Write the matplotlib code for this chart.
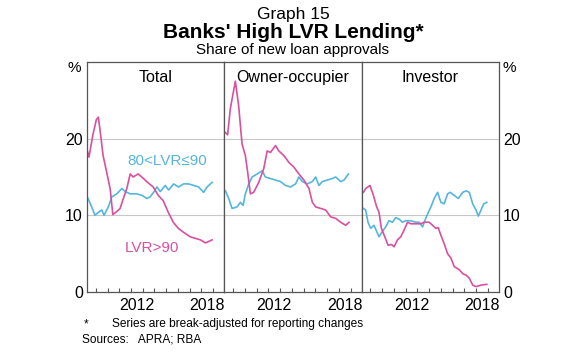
import matplotlib
matplotlib.use("Agg")
import matplotlib.pyplot as plt

plt.rcParams['font.family'] = ['Liberation Sans', 'DejaVu Sans']

# Data (decimal years, per cent)
panels = ["Total", "Owner-occupier", "Investor"]

total_hi_x = [2008.28, 2008.42, 2008.75, 2009.05, 2009.22, 2009.45, 2009.62, 2009.93, 2010.22, 2010.45,
              2010.79, 2011.07, 2011.35, 2011.64, 2011.93, 2012.18, 2012.61, 2013.06, 2013.49, 2013.89,
              2014.32, 2014.75, 2015.17, 2015.6, 2016.03, 2016.46, 2017.05, 2017.48, 2017.91, 2018.34, 2018.91]
total_hi_y = [18.4, 17.6, 20.5, 22.5, 22.8, 20.0, 17.8, 15.6, 13.5, 10.1,
              10.5, 10.9, 12.2, 13.5, 15.4, 15.0, 15.4, 14.8, 14.2, 13.7,
              12.6, 11.9, 10.4, 9.1, 8.3, 7.8, 7.2, 7.0, 6.8, 6.4, 6.8]
total_mid_x = [2008.28, 2008.65, 2008.93, 2009.22, 2009.51, 2009.7, 2010.07, 2010.36, 2010.79, 2011.22,
               2011.5, 2011.93, 2012.5, 2012.93, 2013.35, 2013.63, 2013.92, 2014.21, 2014.49, 2014.92,
               2015.2, 2015.63, 2016.05, 2016.48, 2016.91, 2017.34, 2017.76, 2018.19, 2018.48, 2018.91]
total_mid_y = [12.4, 11.1, 10.0, 10.4, 10.7, 10.0, 11.1, 12.4, 12.8, 13.5,
               13.1, 12.8, 12.8, 12.6, 12.2, 12.4, 13.0, 13.7, 13.1, 13.9,
               13.3, 14.1, 13.7, 14.1, 14.1, 13.9, 13.7, 13.0, 13.7, 14.3]

oo_hi_x = [2008.34, 2008.53, 2008.76, 2009.19, 2009.47, 2009.76, 2010.04, 2010.24, 2010.47, 2010.75,
           2011.18, 2011.61, 2011.9, 2012.18, 2012.61, 2012.89, 2013.32, 2013.75, 2014.17, 2014.6,
           2015.03, 2015.46, 2015.75, 2016.03, 2016.46, 2016.88, 2017.31, 2017.74, 2018.16, 2018.59, 2018.87]
oo_hi_y = [20.8, 20.5, 23.9, 27.5, 24.3, 19.3, 17.8, 15.6, 12.8, 13.0,
           14.3, 16.1, 18.4, 18.2, 19.1, 18.4, 17.8, 16.9, 16.3, 15.4,
           14.6, 13.5, 11.7, 11.1, 10.9, 10.7, 9.8, 9.6, 9.1, 8.7, 9.1]
oo_mid_x = [2008.34, 2008.62, 2008.91, 2009.34, 2009.62, 2009.85, 2010.04, 2010.33, 2010.62, 2011.05,
            2011.47, 2011.75, 2012.18, 2012.61, 2013.04, 2013.46, 2013.89, 2014.32, 2014.6, 2014.89,
            2015.32, 2015.75, 2016.03, 2016.31, 2016.6, 2017.03, 2017.45, 2017.74, 2018.16, 2018.45, 2018.82]
oo_mid_y = [13.2, 12.2, 10.9, 11.1, 11.7, 11.3, 12.8, 14.1, 15.0, 15.4,
            15.8, 15.0, 14.8, 14.6, 14.4, 13.9, 13.7, 14.1, 15.0, 14.4,
            14.1, 14.4, 15.0, 13.9, 14.4, 14.6, 14.8, 15.0, 14.4, 14.6, 15.4]

inv_hi_x = [2008.4, 2008.59, 2008.96, 2009.25, 2009.53, 2009.73, 2009.93, 2010.22, 2010.5, 2010.79,
            2011.01, 2011.3, 2011.58, 2011.87, 2012.16, 2012.44, 2012.87, 2013.29, 2013.57, 2014.0,
            2014.29, 2014.57, 2014.77, 2015.0, 2015.28, 2015.57, 2015.86, 2016.14, 2016.57, 2016.86,
            2017.14, 2017.42, 2017.71, 2017.99, 2018.42, 2018.91]
inv_hi_y = [13.0, 13.5, 13.9, 12.6, 11.1, 10.4, 8.3, 7.2, 6.1, 6.2,
            5.9, 6.8, 7.2, 8.1, 9.1, 8.9, 8.9, 8.9, 9.1, 9.1,
            8.7, 8.3, 8.4, 7.4, 6.3, 5.0, 4.4, 3.3, 2.9, 2.4,
            2.2, 1.8, 0.9, 0.7, 0.9, 1.0]
inv_mid_x = [2008.4, 2008.59, 2008.79, 2009.02, 2009.3, 2009.53, 2009.73, 2010.02, 2010.3, 2010.58,
             2010.87, 2011.16, 2011.44, 2011.73, 2012.01, 2012.44, 2012.87, 2013.15, 2013.44, 2013.63,
             2013.87, 2014.15, 2014.43, 2014.72, 2015.0, 2015.28, 2015.57, 2015.8, 2016.14, 2016.48,
             2016.86, 2017.14, 2017.42, 2017.71, 2017.99, 2018.19, 2018.42, 2018.65, 2018.91]
inv_mid_y = [10.9, 10.7, 9.1, 8.3, 8.7, 7.9, 7.2, 7.9, 8.5, 9.3,
             9.1, 9.7, 9.5, 9.1, 9.3, 9.3, 9.1, 9.1, 8.5, 9.3,
             10.2, 11.1, 12.2, 13.0, 11.7, 11.5, 12.8, 13.0, 12.6, 12.2,
             13.0, 13.2, 13.0, 11.5, 10.7, 9.9, 10.7, 11.5, 11.7]

hi_x = [total_hi_x, oo_hi_x, inv_hi_x]
hi_y = [total_hi_y, oo_hi_y, inv_hi_y]
mid_x = [total_mid_x, oo_mid_x, inv_mid_x]
mid_y = [total_mid_y, oo_mid_y, inv_mid_y]

yticks = [0, 10, 20]
year_labels = ["2012", "2018"]

pink = "#d9509f"
blue = "#55b6dc"
edge = "#555555"

fig = plt.figure(figsize=(5.8, 3.52), dpi=100)
left, right, bottom, top = 87 / 580, 499 / 580, 60 / 352, 290 / 352
w = (right - left) / 3

for i in range(3):
    ax = fig.add_axes([left + i * w, bottom, w, top - bottom])
    ax.plot(mid_x[i], mid_y[i], color=blue, lw=1.2)
    ax.plot(hi_x[i], hi_y[i], color=pink, lw=1.2)
    ax.set_xlim(2008.25, 2019.95)
    ax.set_ylim(0, 30)
    for g in [10, 20]:
        ax.axhline(g, color="#c8c8c8", lw=0.8, zorder=0)
    for s in ax.spines.values():
        s.set_color(edge)
        s.set_linewidth(0.9)
    ax.set_xticks(range(2009, 2020))
    ax.set_xticklabels([])
    ax.tick_params(axis="x", which="major", direction="in", length=3, color=edge, width=0.8)
    ax.set_xticks([2012.5, 2018.5], minor=True)
    ax.set_xticklabels(year_labels, minor=True)
    ax.tick_params(axis="x", which="minor", length=0, pad=4, labelsize=11.5)
    ax.set_yticks(yticks)
    ax.tick_params(axis="y", length=0, labelsize=11.5, pad=3)
    if i == 0:
        ax.set_yticklabels([str(v) for v in yticks])
    elif i == 2:
        ax.yaxis.tick_right()
        ax.set_yticklabels([str(v) for v in yticks])
    else:
        ax.set_yticklabels([])
    ax.text(0.5, 0.965, panels[i], transform=ax.transAxes, ha="center", va="top", fontsize=11.5)
    if i == 0:
        ax.text(2015.1, 17.1, "80<LVR≤90", color=blue, ha="center", va="center", fontsize=11)
        ax.text(2013.8, 5.7, "LVR>90", color=pink, ha="center", va="center", fontsize=11)

fig.text(74 / 580, 1 - 68 / 352, "%", ha="center", va="center", fontsize=11)
fig.text(509 / 580, 1 - 68 / 352, "%", ha="center", va="center", fontsize=11)

fig.text(293 / 580, 1 - 14 / 352, "Graph 15", ha="center", va="center", fontsize=12.5)
fig.text(293 / 580, 1 - 33 / 352, "Banks' High LVR Lending*", ha="center", va="center",
         fontsize=15, fontweight="bold")
fig.text(293 / 580, 1 - 50 / 352, "Share of new loan approvals", ha="center", va="center", fontsize=11)

fig.text(84 / 580, 1 - 324 / 352, "*", ha="left", va="center", fontsize=8.6)
fig.text(112 / 580, 1 - 324 / 352, "Series are break-adjusted for reporting changes",
         ha="left", va="center", fontsize=8.6)
fig.text(82 / 580, 1 - 339 / 352, "Sources:   APRA; RBA", ha="left", va="center", fontsize=8.6)

fig.savefig("out.png", dpi=100, facecolor="white")
